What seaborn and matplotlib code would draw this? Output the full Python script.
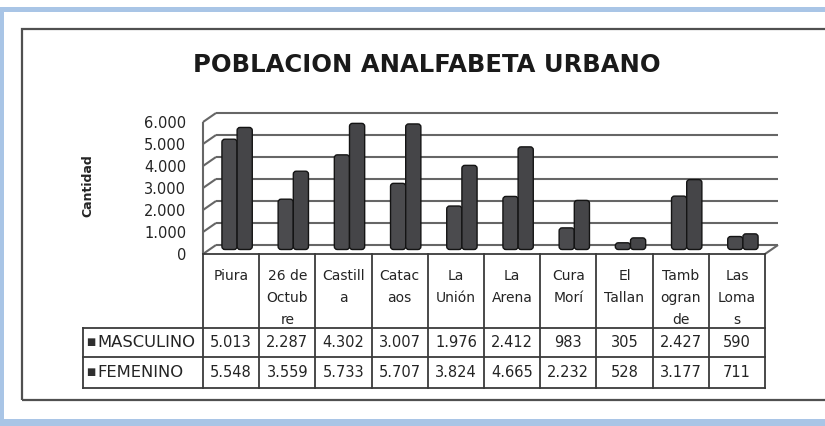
import matplotlib
matplotlib.use("Agg")
import matplotlib.pyplot as plt
import pandas as pd
import seaborn as sns
from matplotlib.patches import Rectangle, FancyBboxPatch
from matplotlib.transforms import ScaledTranslation

# ---- data ----
distritos = ["Piura", "26 de Octubre", "Castilla", "Catacaos", "La Unión",
             "La Arena", "Cura Morí", "El Tallan", "Tambogrande", "Las Lomas"]
etiquetas = ["Piura", "26 de\nOctub\nre", "Castill\na", "Catac\naos", "La\nUnión",
             "La\nArena", "Cura\nMorí", "El\nTallan", "Tamb\nogran\nde", "Las\nLoma\ns"]
masculino = [5013, 2287, 4302, 3007, 1976, 2412, 983, 305, 2427, 590]
femenino = [5548, 3559, 5733, 5707, 3824, 4665, 2232, 528, 3177, 711]
series = ["MASCULINO", "FEMENINO"]
yticks = [0, 1000, 2000, 3000, 4000, 5000, 6000]
titulo = "POBLACION ANALFABETA URBANO"
eje_y = "Cantidad"


def miles(v):
    return f"{v:,}".replace(",", ".")


df = pd.DataFrame({
    "Distrito": distritos * 2,
    "Cantidad": masculino + femenino,
    "Sexo": [series[0]] * len(distritos) + [series[1]] * len(distritos),
})

sns.set_theme(style="white")
plt.rcParams["font.family"] = ["DejaVu Sans"]
TXT = "#242424"

W, H = 825, 426
fig = plt.figure(figsize=(W / 100, H / 100), dpi=100)
fig.patch.set_facecolor("white")


def fx(px):
    return px / W


def fy(py):
    return 1 - py / H


def frect(x0, y0, x1, y1, **kw):
    fig.patches.append(Rectangle((fx(x0), fy(y1)), fx(x1) - fx(x0), fy(y0) - fy(y1),
                                 transform=fig.transFigure, **kw))


# outer light-blue frame
blue = "#a9c5e6"
frect(0, 7, W, 12, color=blue, lw=0)
frect(0, 7, 4, H, color=blue, lw=0)
frect(0, 419, W, H, color=blue, lw=0)
# chart area border
frect(22, 29, W + 10, 400, facecolor="none", edgecolor="#505050", lw=1.6)

# ---- plot area (front plane: 0 at y=254, 6000 at y=122) ----
X0, X1 = 203, 765
Y0 = 254
PX_PER_UNIT = 0.022
YMAX = 6450
ax = fig.add_axes([fx(X0), fy(Y0), fx(X1) - fx(X0), YMAX * PX_PER_UNIT / H])
ax.set_facecolor("none")

sns.barplot(data=df, x="Distrito", y="Cantidad", hue="Sexo", order=distritos,
            hue_order=series, palette=["#4b4b4e", "#454548"], saturation=1,
            width=0.54, edgecolor="#141414", linewidth=1.0, ax=ax, legend=False)

ax.set_xlim(-0.5, len(distritos) - 0.5)
ax.set_ylim(0, YMAX)

# bars sit half-way into the depth: shift them and round their ends
col_px = (X1 - X0) / len(distritos)
shift = ax.transData + ScaledTranslation(6 / 100, 4.5 / 100, fig.dpi_scale_trans)
r_px = 3.0
for bar in list(ax.patches):
    x, y = bar.get_x(), bar.get_y()
    w, h = bar.get_width(), bar.get_height()
    cyl = FancyBboxPatch((x, y), w, h,
                         boxstyle=f"round,pad=0,rounding_size={r_px / col_px}",
                         mutation_aspect=col_px / PX_PER_UNIT,
                         facecolor=bar.get_facecolor(), edgecolor="#141414",
                         lw=1.0, transform=shift, zorder=3)
    bar.remove()
    ax.add_patch(cyl)

# walls, floor and back gridlines
dxb = 13 / col_px
dyb = 9 / PX_PER_UNIT
xl, xr = -0.5, len(distritos) - 0.5
gk = dict(color="#666666", lw=1.5, clip_on=False, zorder=1, solid_capstyle="butt")
for v in yticks:
    ax.plot([xl + dxb, xr + dxb], [v + dyb, v + dyb], **gk)
    ax.plot([xl, xl + dxb], [v, v + dyb], **gk)
ax.plot([xl, xl], [0, yticks[-1]], **gk)
ax.plot([xr, xr + dxb], [0, dyb], **gk)

ax.set_yticks(yticks)
ax.set_yticklabels([miles(v) for v in yticks], fontsize=10.5, color=TXT)
ax.tick_params(axis="y", length=0, pad=12)
ax.tick_params(axis="x", length=0, labelbottom=False)
ax.set_xlabel("")
ax.set_ylabel("")
for s in ax.spines.values():
    s.set_visible(False)
ax.grid(False)

fig.text(fx(88), fy(186), eje_y, rotation=90, ha="center", va="center",
         fontsize=9, fontweight="bold", color=TXT)
fig.text(fx(427), fy(65), titulo, ha="center", va="center",
         fontsize=17.5, fontweight="bold", color="#1a1a1a")

# ---- data table ----
T0, T1 = 254, 388
R1, R2 = 328, 357
tab = fig.add_axes([fx(X0), fy(T1), fx(X1) - fx(X0), (T1 - T0) / H])
tab.set_xlim(xl, xr)
tab.set_ylim(T1, T0)
tab.axis("off")
xlab = xl - (X0 - 83) / col_px
lk = dict(color="#3a3a3a", lw=1.3, clip_on=False, solid_capstyle="projecting")
tab.plot([xl, xr], [T0, T0], **lk)
for k in range(len(distritos) + 1):
    tab.plot([xl + k, xl + k], [T0, T1], **lk)
tab.plot([xlab, xlab], [R1, T1], **lk)
for yy in (R1, R2, T1):
    tab.plot([xlab, xr], [yy, yy], **lk)

for i, lab in enumerate(etiquetas):
    tab.text(i, 269, lab, ha="center", va="top", fontsize=10,
             linespacing=1.74, color=TXT)
for yy, vals, name in ((342.5, masculino, series[0]), (372.5, femenino, series[1])):
    for i, v in enumerate(vals):
        tab.text(i, yy, miles(v), ha="center", va="center", fontsize=10.5, color=TXT)
    tab.text(xl + (91 - X0) / col_px, yy, "■", ha="center", va="center",
             fontsize=7, color="#2e2e2e")
    tab.text(xl + (97 - X0) / col_px, yy, name, ha="left", va="center",
             fontsize=11.8, color=TXT)

fig.savefig("out.png", dpi=100)
